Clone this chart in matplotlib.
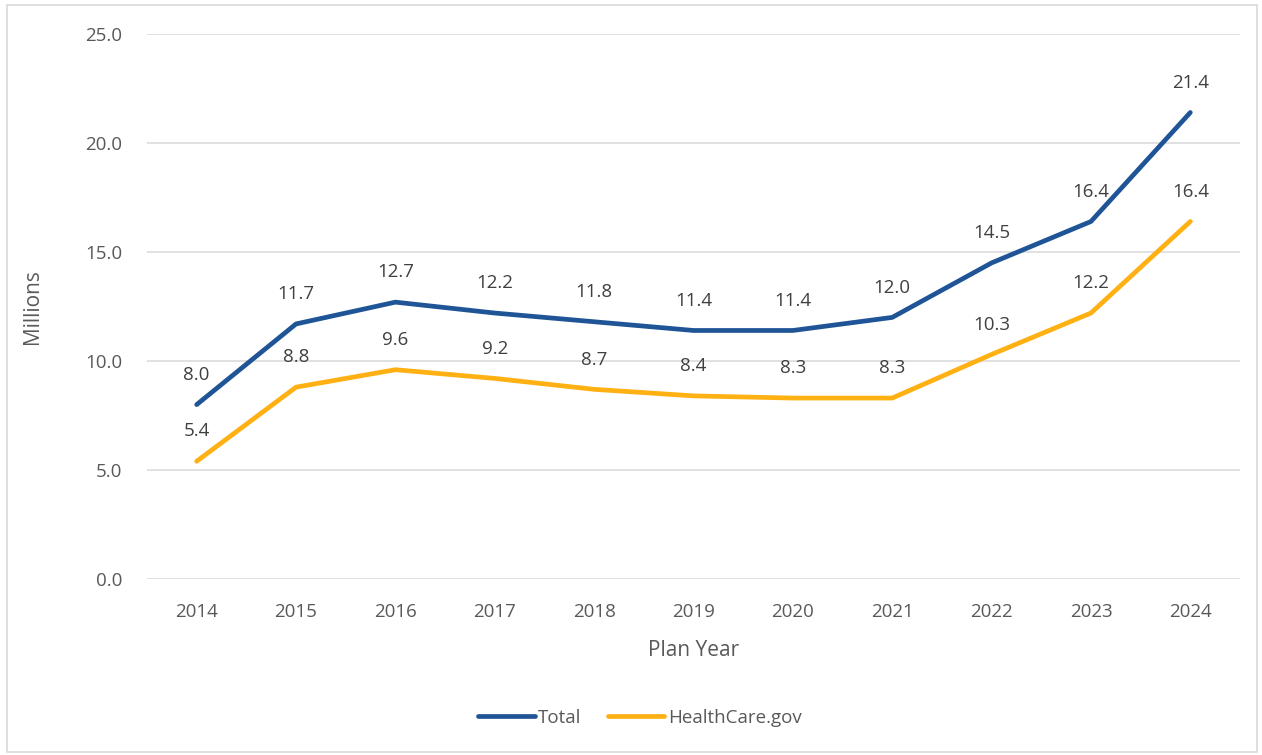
import numpy as np
import matplotlib
matplotlib.use("Agg")
import matplotlib.pyplot as plt
from matplotlib.patches import Rectangle
from matplotlib.lines import Line2D

years = ["2014", "2015", "2016", "2017", "2018", "2019", "2020", "2021", "2022", "2023", "2024"]
total = [8.0, 11.7, 12.7, 12.2, 11.8, 11.4, 11.4, 12.0, 14.5, 16.4, 21.4]
healthcare_gov = [5.4, 8.8, 9.6, 9.2, 8.7, 8.4, 8.3, 8.3, 10.3, 12.2, 16.4]
series_names = ["Total", "HealthCare.gov"]
colors = ["#1F5597", "#FFB012"]

plt.rcParams['font.family'] = ['Open Sans', 'DejaVu Sans']
text_color = "#595959"

fig = plt.figure(figsize=(12.62, 7.55), dpi=100)
ax = fig.add_axes([147/1262, 176/755, (1240-147)/1262, (579-34)/755])

x = np.arange(len(years))
for vals, col in zip([total, healthcare_gov], colors):
    ax.plot(x, vals, color=col, lw=3.4, solid_capstyle='round', solid_joinstyle='round', zorder=3)
    for xi, v in zip(x, vals):
        ax.annotate(f"{v:.1f}", (xi, v), xytext=(0, 15), textcoords='offset points',
                    ha='center', va='bottom', fontsize=13.5, color="#404040")

ax.set_xlim(-0.5, len(years) - 0.5)
ax.set_ylim(0, 25)
yt = np.arange(0, 25.1, 5)
ax.set_yticks(yt)
ax.set_yticklabels([f"{v:.1f}" for v in yt])
ax.set_xticks(x)
ax.set_xticklabels(years)
ax.tick_params(axis='both', length=0, labelsize=13.5, labelcolor=text_color)
ax.tick_params(axis='y', pad=18)
ax.tick_params(axis='x', pad=17)
ax.grid(axis='y', color="#D9D9D9", lw=1.1)
ax.set_axisbelow(True)
for s in ax.spines.values():
    s.set_visible(False)
ax.set_ylabel("Millions", fontsize=15, color=text_color, labelpad=30)
ax.set_xlabel("Plan Year", fontsize=15, color=text_color, labelpad=14)

handles = [Line2D([0], [0], color=c, lw=3.4, solid_capstyle='round') for c in colors]
fig.legend(handles, series_names, loc='center', bbox_to_anchor=(640/1262, 1 - 718/755),
           ncol=2, frameon=False, fontsize=13.5, labelcolor=text_color,
           handlelength=3.0, handletextpad=0.2, columnspacing=1.4)

fig.patches.append(Rectangle((7/1262, 3/755), 1250/1262, 747/755, transform=fig.transFigure,
                             fill=False, edgecolor="#D9D9D9", lw=1.2))

fig.savefig("out.png", dpi=100, facecolor="white")
